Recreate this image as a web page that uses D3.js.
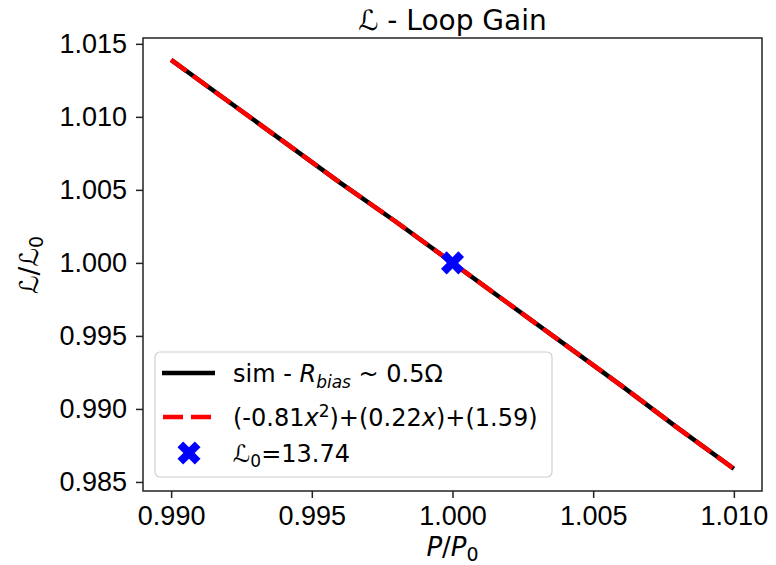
<!DOCTYPE html>
<html>
<head>
<meta charset="utf-8">
<script src="https://cdn.jsdelivr.net/npm/d3@7"></script>
<style>
  body { margin: 0; background: #fff; }
  svg { font-family: "DejaVu Sans", sans-serif; }
  .tick text { font-size: 27px; fill: #000; }
  .tick line, .domain { stroke: #222; stroke-width: 1.5; }
</style>
</head>
<body>
<svg id="chart" width="776" height="565"></svg>
<script>
// values
const xTicks = [0.990, 0.995, 1.000, 1.005, 1.010];
const yTicks = [0.985, 0.990, 0.995, 1.000, 1.005, 1.010, 1.015];
const pRatio = [0.990, 0.992, 0.994, 0.996, 0.998, 1.000, 1.002, 1.004, 1.006, 1.008, 1.010];
const simValues = [1.0139, 1.0111, 1.0083, 1.0055, 1.0028, 1.0000, 0.9972, 0.9944, 0.9916, 0.9887, 0.9859];
const fitValues = [1.0139, 1.0111, 1.0083, 1.0055, 1.0028, 1.0000, 0.9972, 0.9944, 0.9916, 0.9887, 0.9859];
const refPoint = [1.000, 1.000];

const margin = { left: 143, right: 762, top: 38, bottom: 491 };

const svg = d3.select("#chart");

const x = d3.scaleLinear().domain([0.989, 1.011]).range([margin.left, margin.right]);
const y = d3.scaleLinear().domain([0.98438, 1.0154]).range([margin.bottom, margin.top]);

// axes
svg.append("g")
    .attr("transform", `translate(0,${margin.bottom})`)
    .call(d3.axisBottom(x).tickValues(xTicks).tickFormat(d3.format(".3f")).tickSize(7).tickPadding(8))
    .call(g => g.select(".domain").remove());

svg.append("g")
    .attr("transform", `translate(${margin.left},0)`)
    .call(d3.axisLeft(y).tickValues(yTicks).tickFormat(d3.format(".3f")).tickSize(7).tickPadding(9))
    .call(g => g.select(".domain").remove());

const line = d3.line().x(d => x(d[0])).y(d => y(d[1]));

// sim line, then the dashed fit over it
svg.append("path")
    .datum(d3.zip(pRatio, simValues))
    .attr("d", line)
    .attr("fill", "none")
    .attr("stroke", "#000")
    .attr("stroke-width", 4.5);

svg.append("path")
    .datum(d3.zip(pRatio, fitValues))
    .attr("d", line)
    .attr("fill", "none")
    .attr("stroke", "#ff0000")
    .attr("stroke-width", 4.5)
    .attr("stroke-dasharray", "19 8");

// filled X marker
function xMarker(a, b) {
    const pts = [[b, b], [a, b], [a, -b], [b, -b], [b, -a], [-b, -a], [-b, -b], [-a, -b], [-a, b], [-b, b], [-b, a], [b, a]];
    const c = Math.SQRT1_2;
    return "M" + pts.map(([px, py]) => [(px - py) * c, (px + py) * c].join(",")).join("L") + "Z";
}

svg.append("path")
    .attr("d", xMarker(12.3, 4))
    .attr("transform", `translate(${x(refPoint[0])},${y(refPoint[1])})`)
    .attr("fill", "#0000ff");

// frame
svg.append("rect")
    .attr("x", margin.left).attr("y", margin.top)
    .attr("width", margin.right - margin.left)
    .attr("height", margin.bottom - margin.top)
    .attr("fill", "none")
    .attr("stroke", "#222")
    .attr("stroke-width", 1.5);

// title and axis labels
svg.append("text")
    .attr("x", (margin.left + margin.right) / 2).attr("y", 30)
    .attr("text-anchor", "middle")
    .attr("font-size", 28)
    .text("ℒ - Loop Gain");

const xl = svg.append("text")
    .attr("x", (margin.left + margin.right) / 2).attr("y", 556)
    .attr("text-anchor", "middle")
    .attr("font-size", 26);
xl.append("tspan").attr("font-style", "italic").text("P");
xl.append("tspan").text("/");
xl.append("tspan").attr("font-style", "italic").text("P");
xl.append("tspan").attr("font-size", 19).attr("dy", 5).text("0");

const yl = svg.append("text")
    .attr("transform", `translate(38,265) rotate(-90)`)
    .attr("text-anchor", "middle")
    .attr("font-size", 26);
yl.append("tspan").text("ℒ/ℒ");
yl.append("tspan").attr("font-size", 19).attr("dy", 5).text("0");

// legend
const lg = svg.append("g");
lg.append("rect")
    .attr("x", 155).attr("y", 352).attr("width", 397).attr("height", 125)
    .attr("rx", 5)
    .attr("fill", "#fff").attr("fill-opacity", 0.8)
    .attr("stroke", "#d0d0d0").attr("stroke-width", 1.2);

lg.append("line")
    .attr("x1", 162).attr("x2", 215).attr("y1", 373).attr("y2", 373)
    .attr("stroke", "#000").attr("stroke-width", 4.5);
lg.append("line")
    .attr("x1", 163).attr("x2", 215).attr("y1", 417).attr("y2", 417)
    .attr("stroke", "#ff0000").attr("stroke-width", 4.5)
    .attr("stroke-dasharray", "20 8");
lg.append("path")
    .attr("d", xMarker(12.3, 4))
    .attr("transform", "translate(189,453)")
    .attr("fill", "#0000ff");

const t1 = lg.append("text").attr("x", 233).attr("y", 382).attr("font-size", 24);
t1.append("tspan").text("sim - ");
t1.append("tspan").attr("font-style", "italic").text("R");
t1.append("tspan").attr("font-style", "italic").attr("font-size", 17).attr("dy", 6).text("bias");
t1.append("tspan").attr("dy", -6).text(" ~ 0.5Ω");

const t2 = lg.append("text").attr("x", 233).attr("y", 426).attr("font-size", 24);
t2.append("tspan").text("(-0.81");
t2.append("tspan").attr("font-style", "italic").text("x");
t2.append("tspan").attr("font-size", 17).attr("dy", -9).text("2");
t2.append("tspan").attr("dy", 9).text(")+(0.22");
t2.append("tspan").attr("font-style", "italic").text("x");
t2.append("tspan").text(")+(1.59)");

const t3 = lg.append("text").attr("x", 233).attr("y", 462).attr("font-size", 24);
t3.append("tspan").text("ℒ");
t3.append("tspan").attr("font-size", 17).attr("dy", 5).text("0");
t3.append("tspan").attr("dy", -5).text("=13.74");
</script>
</body>
</html>
